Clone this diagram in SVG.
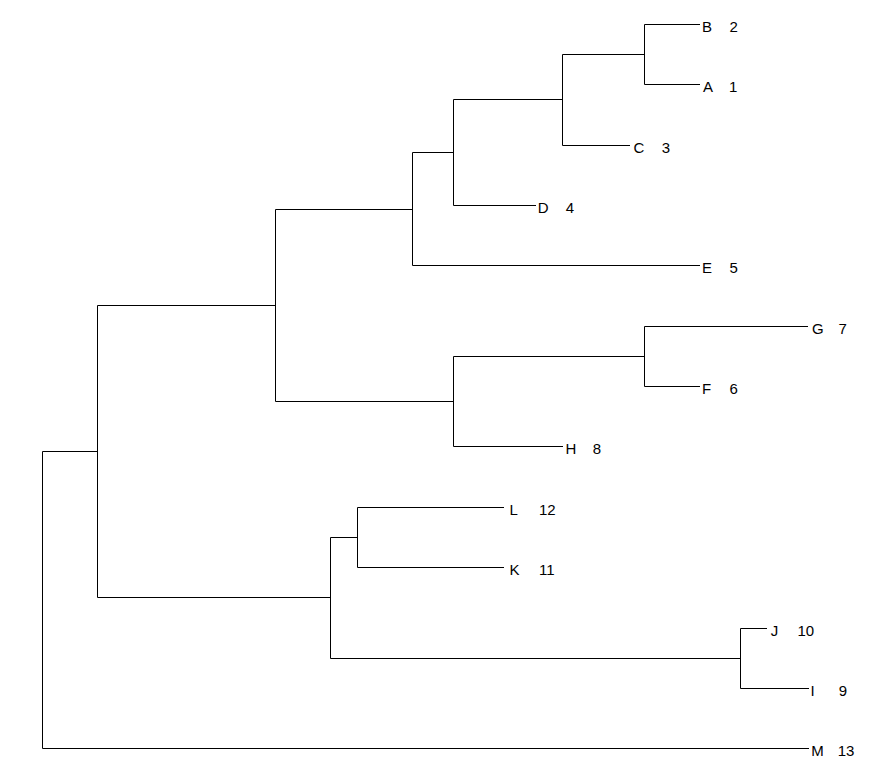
<svg xmlns="http://www.w3.org/2000/svg" width="886" height="782" viewBox="0 0 886 782">
<style>
.c{fill:none;stroke:#000;stroke-width:1;stroke-linejoin:miter;stroke-linecap:butt}
text{font-family:"Liberation Sans",Arial,sans-serif;font-size:15px;fill:#000}
</style>
<rect width="886" height="782" fill="#fff"/>
<g id="connectors">
<path class="c" d="M700,24.5 H644.5 V84.5 H700"/>
<path class="c" d="M644.5,54.5 H562.5 V145.5 H630"/>
<path class="c" d="M562.5,99.5 H453.5 V205.5 H536"/>
<path class="c" d="M453.5,152.5 H412.5 V265.5 H700"/>
<path class="c" d="M808,326.5 H644.5 V386.5 H700"/>
<path class="c" d="M644.5,356.5 H453.5 V446.5 H563"/>
<path class="c" d="M412.5,209.5 H275.5 V401.5 H453.5"/>
<path class="c" d="M504,507.5 H357.5 V567.5 H504"/>
<path class="c" d="M767,628.5 H740.5 V688.5 H809"/>
<path class="c" d="M357.5,537.5 H330.5 V658.5 H740.5"/>
<path class="c" d="M275.5,305.5 H97.5 V597.5 H330.5"/>
<path class="c" d="M97.5,451.5 H42.5 V748.5 H809"/>
</g>
<g id="B"><text x="702" y="31.5">B</text><text x="729.5" y="31.5">2</text></g>
<g id="A"><text x="703" y="91.5">A</text><text x="729" y="91.5">1</text></g>
<g id="C"><text x="633.5" y="152.5">C</text><text x="661.8" y="152.5">3</text></g>
<g id="D"><text x="537.8" y="212.5">D</text><text x="565.7" y="212.5">4</text></g>
<g id="E"><text x="702.1" y="272.5">E</text><text x="729.5" y="272.5">5</text></g>
<g id="G"><text x="812" y="333.5">G</text><text x="838.6" y="333.5">7</text></g>
<g id="F"><text x="702.1" y="393.5">F</text><text x="729.4" y="393.5">6</text></g>
<g id="H"><text x="565.5" y="453.5">H</text><text x="592.7" y="453.5">8</text></g>
<g id="L"><text x="509.6" y="514.5">L</text><text x="539" y="514.5">12</text></g>
<g id="K"><text x="509.6" y="574.5">K</text><text x="539" y="574.5">11</text></g>
<g id="J"><text x="770.7" y="635.5">J</text><text x="797.4" y="635.5">10</text></g>
<g id="I"><text x="810.4" y="695.5">I</text><text x="838.7" y="695.5">9</text></g>
<g id="M"><text x="811.2" y="755.5">M</text><text x="837.7" y="755.5">13</text></g>
</svg>
